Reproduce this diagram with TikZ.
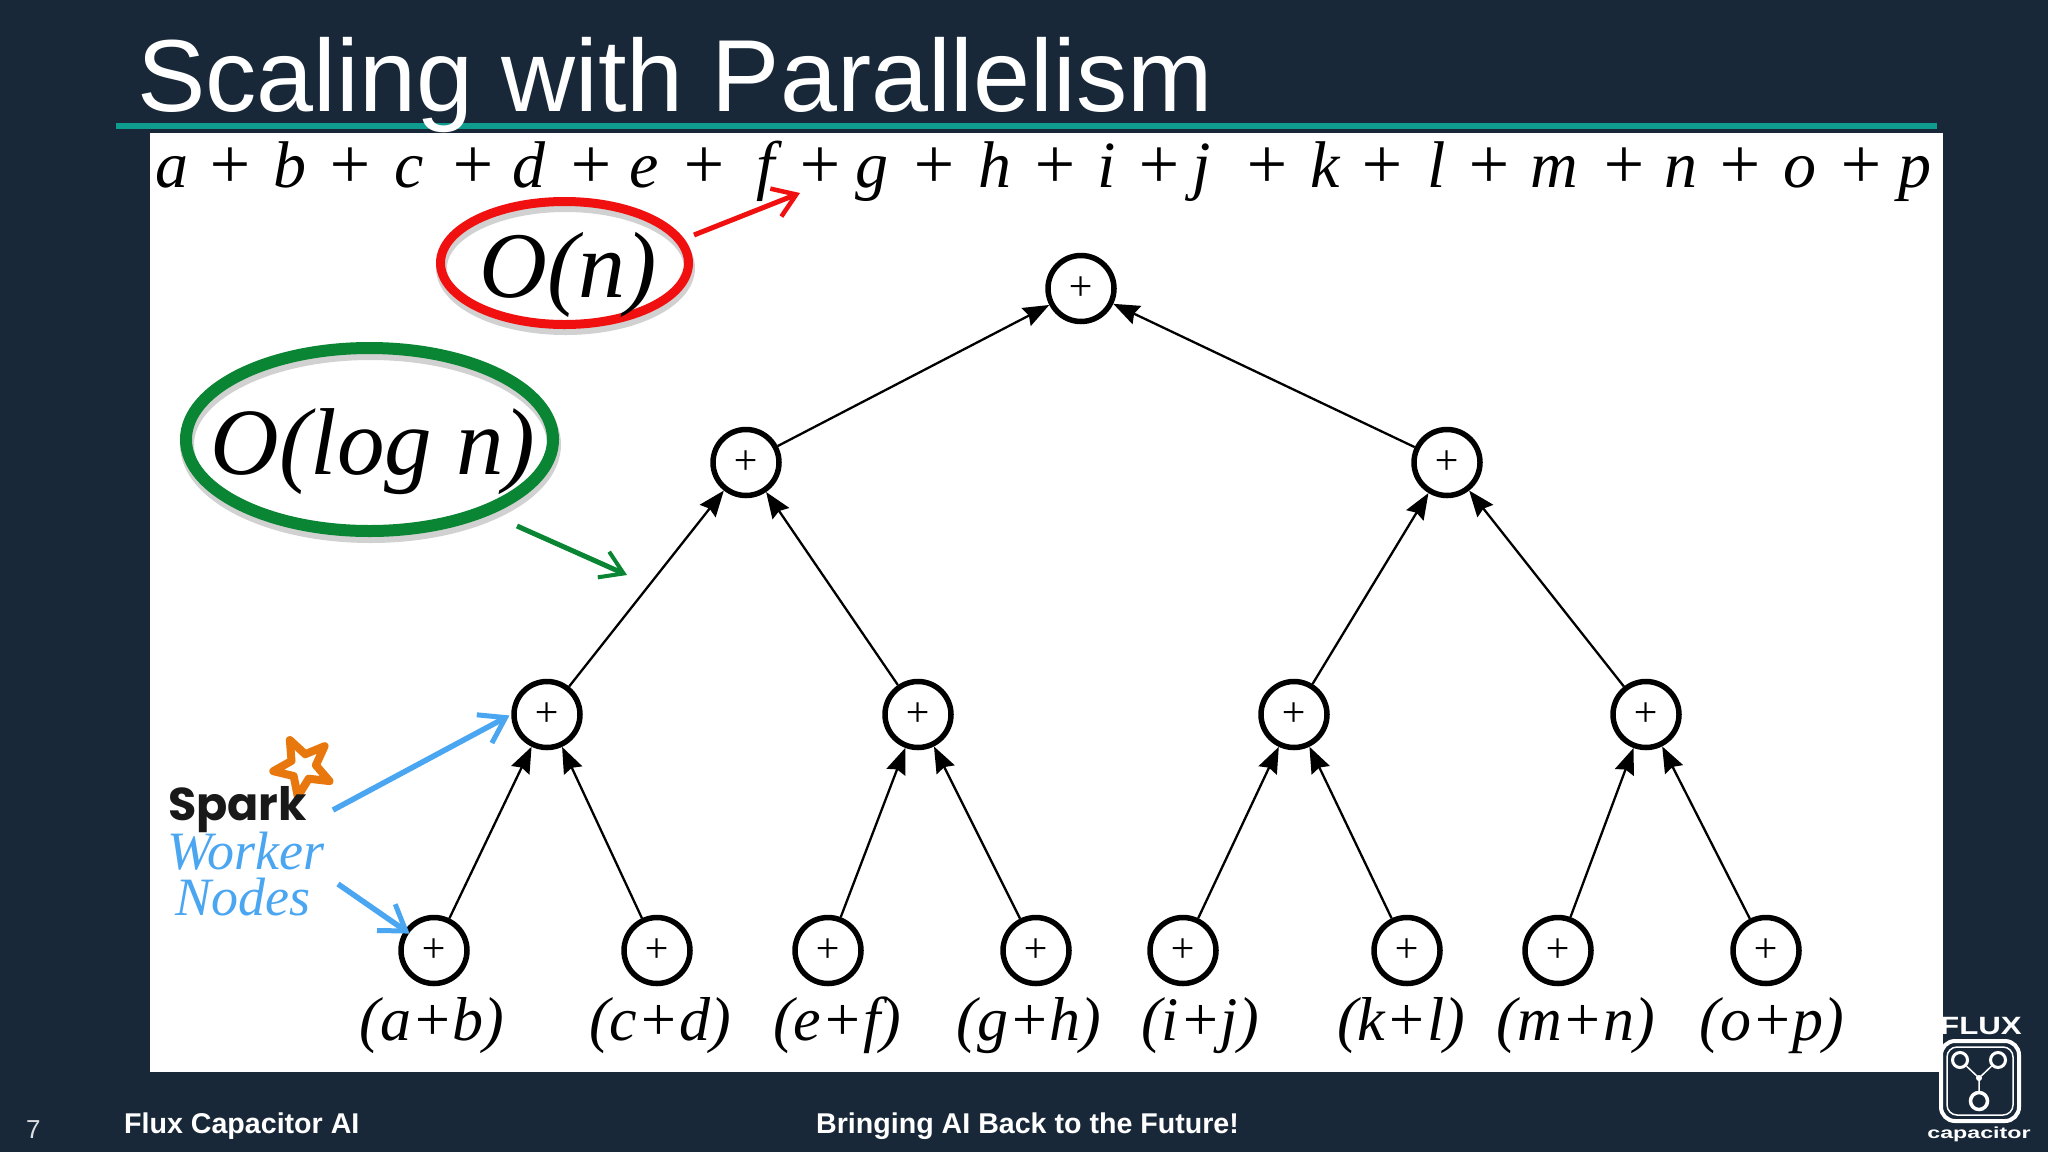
\documentclass[tikz,border=0pt]{standalone}
\usepackage{fontspec}
\usetikzlibrary{arrows.meta,shapes.geometric}
\setmainfont{Liberation Sans}
\newfontfamily\hand{Liberation Serif}
\newfontfamily\sparkfont{Poppins}
\definecolor{bgc}{HTML}{182838}
\definecolor{tealc}{HTML}{0E9C8E}
\definecolor{redc}{HTML}{F01010}
\definecolor{greenc}{HTML}{0A8534}
\definecolor{bluec}{HTML}{4BA6F2}
\definecolor{orangec}{HTML}{E8780E}
\newcommand{\fsz}[1]{\fontsize{#1}{#1}\selectfont}
\tikzset{
  x=1pt,y=-1pt,
  treenode/.style={circle,draw=black,line width=5.5pt,minimum size=66pt,inner sep=0pt,fill=white,font=\hand\itshape\fsz{42}},
  treeedge/.style={line width=2.3pt,-{Stealth[length=26pt,width=20pt,inset=3pt]}},
  token/.style={inner sep=0pt,anchor=base,font=\hand\itshape\fsz{66}},
  plustok/.style={inner sep=0pt,anchor=center,font=\hand\itshape\fsz{72}},
  leaflabel/.style={inner sep=0pt,anchor=base,font=\hand\itshape\fsz{62}},
  bigo/.style={ellipse,inner sep=0pt,font=\hand\itshape},
  ringshadow/.style={preaction={draw=black,draw opacity=.18,line width=#1,transform canvas={yshift=-5pt,xshift=1pt}}},
  redarrow/.style={draw=redc,line width=5pt,-{Straight Barb[length=22pt,width=30pt,line width=4.5pt]}},
  greenarrow/.style={draw=greenc,line width=5pt,-{Straight Barb[length=22pt,width=28pt,line width=4pt]}},
  bluearrow/.style={draw=bluec,line width=5.5pt,-{Straight Barb[length=24pt,width=32pt,line width=5pt]}},
  handblue/.style={inner sep=0pt,anchor=base,text=bluec,font=\hand\itshape\fsz{54}},
  foot/.style={inner sep=0pt,anchor=base west,text=white,font=\bfseries\fsz{28.6}},
}
\begin{document}
\begin{tikzpicture}
\useasboundingbox (0,0) rectangle (2048,1152);
\fill[bgc] (0,0) rectangle (2048,1152);
\fill[white] (150,133) rectangle (1943,1072);
\fill[tealc] (116,123) rectangle (1937,129);
\node[inner sep=0pt,anchor=base west,text=white,font=\fsz{102.4}] (title) at (137,111) {Scaling with Parallelism};

% top row of letters
\foreach \x/\s [count=\i] in {132/a,222/b,313/c,405/d,493/e,586/f,668/g,762/h,847/i,920/j,1015/k,1100/l,1190/m,1287/n,1378/o,1466/p}
  \node[token] (t\i) at (\x*1.306,187) {\s};
\foreach \x [count=\i] in {176,268,362,452,539,628,715,808,887,970,1058,1140,1243,1332,1425}
  \node[plustok] (p\i) at (\x*1.306,168) {+};

% tree
\node[treenode] (r) at (1081,288.5) {+};
\node[treenode] (a1) at (746,462.5) {+};
\node[treenode] (a2) at (1447,462.5) {+};
\node[treenode] (b1) at (547,714.5) {+};
\node[treenode] (b2) at (918,714.5) {+};
\node[treenode] (b3) at (1294,714.5) {+};
\node[treenode] (b4) at (1646,714.5) {+};
\node[treenode] (c1) at (434,950.5) {+};
\node[treenode] (c2) at (657,950.5) {+};
\node[treenode] (c3) at (828,950.5) {+};
\node[treenode] (c4) at (1036,950.5) {+};
\node[treenode] (c5) at (1183,950.5) {+};
\node[treenode] (c6) at (1407,950.5) {+};
\node[treenode] (c7) at (1558,950.5) {+};
\node[treenode] (c8) at (1766,950.5) {+};
\foreach \a/\b in {a1/r,a2/r,b1/a1,b2/a1,b3/a2,b4/a2,c1/b1,c2/b1,c3/b2,c4/b2,c5/b3,c6/b3,c7/b4,c8/b4}
  \draw[treeedge] (\a) -- (\b);

% leaf labels
\foreach \x/\s [count=\i] in {432/(a+b),660/(c+d),837/(e+f),1029/(g+h),1200/(i+j),1401/(k+l),1576/(m+n),1772/(o+p)}
  \node[leaflabel] (lab\i) at (\x,1040) {\s};

% complexity ellipses
\node[bigo,draw=redc,line width=9pt,minimum width=248pt,minimum height=123pt,ringshadow=11pt] (on) at (564.5,263) {};
\node[inner sep=0pt,anchor=base,font=\hand\itshape\fsz{94}] (ontext) at (568,297) {O(n)};
\node[bigo,draw=greenc,line width=12pt,minimum width=367pt,minimum height=183pt,ringshadow=14pt] (ol) at (369.5,439.5) {};
\node[inner sep=0pt,anchor=base,font=\hand\itshape\fsz{95}] (oltext) at (373,474) {O(log n)};

\coordinate (redstart) at (694,235);
\coordinate (redend) at (800,193);
\draw[redarrow] (redstart) -- (redend);
\coordinate (greenstart) at (517,526);
\coordinate (greenend) at (627,575);
\draw[greenarrow] (greenstart) -- (greenend);

% spark
\draw[shift={(303,767)},orangec,line width=8pt,line join=round,fill=white]
  (100:30) -- (136:13) -- (172:30) -- (208:13) -- (244:30) -- (280:13) -- (316:30) -- (352:13) -- (28:30) -- (64:13) -- cycle;
\node[inner sep=0pt,anchor=base west,text=black!90,font=\sparkfont\bfseries\fsz{46}] (spark) at (168,820) {Spark};
\node[handblue] (worker) at (246,869) {Worker};
\node[handblue] (nodes) at (243,915) {Nodes};
\coordinate (bs1) at (333,810);
\coordinate (bs2) at (338,884);
\draw[bluearrow,shorten >=2pt] (bs1) -- (b1.west);
\draw[bluearrow,shorten >=-6pt] (bs2) -- (c1);

% footer
\node[inner sep=0pt,anchor=base west,text=white!85!bgc,font=\fsz{26}] (pg) at (26,1138) {7};
\node[foot] (f1) at (124,1133) {Flux Capacitor AI};
\node[foot] (f2) at (816,1133) {Bringing AI Back to the Future!};

% logo
\node[inner sep=0pt,anchor=base,text=white,font=\bfseries\fsz{25}] (flux) at (1981,1034) {\scalebox{1.25}[1]{FLUX}};
\node[draw=white,line width=4pt,rounded corners=14pt,minimum width=78pt,minimum height=80pt,inner sep=0pt] (box) at (1980,1081) {};
\node[draw=white,line width=1.5pt,rounded corners=10pt,minimum width=66pt,minimum height=68pt,inner sep=0pt] (inbox) at (1980,1081) {};
\node[circle,draw=white,line width=3pt,minimum size=15pt,inner sep=0pt] (cl) at (1960,1060) {};
\node[circle,draw=white,line width=3pt,minimum size=15pt,inner sep=0pt] (cr) at (1998,1060) {};
\node[circle,draw=white,line width=3.5pt,minimum size=17pt,inner sep=0pt] (cb) at (1979,1101) {};
\coordinate (cj) at (1979,1078);
\draw[white,line width=1.5pt] (cl) -- (cj) (cr) -- (cj) (cb) -- (cj);
\fill[white] (cj) circle (3pt);
\node[inner sep=0pt,anchor=base,text=white,font=\bfseries\fsz{16}] (cap) at (1979,1138) {\scalebox{1.45}[1]{capacitor}};
\end{tikzpicture}
\end{document}
